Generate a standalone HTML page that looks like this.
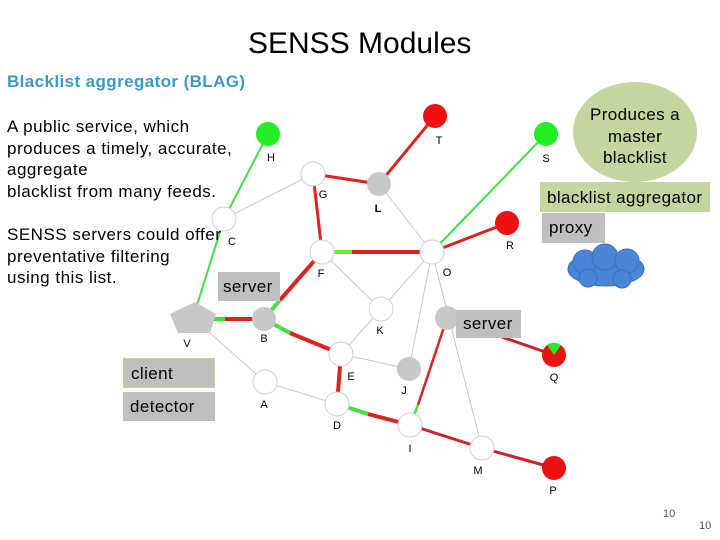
<!DOCTYPE html>
<html><head><meta charset="utf-8"><style>
html,body{margin:0;padding:0;background:#fff;}
body{width:720px;height:540px;position:relative;overflow:hidden;font-family:"Liberation Sans",Arial,sans-serif;}
.t{position:absolute;white-space:nowrap;}
.box{position:absolute;background:#bfbfbf;color:#000;font-size:17px;letter-spacing:0.4px;box-sizing:border-box;padding-left:7px;white-space:nowrap;}
</style></head><body>
<svg width="720" height="540" style="position:absolute;left:0;top:0" xmlns="http://www.w3.org/2000/svg">
<g stroke="#c8c8c8" stroke-width="1" fill="none">
<line x1="224" y1="219" x2="313" y2="174"/>
<line x1="379" y1="184" x2="432" y2="252"/>
<line x1="322" y1="252" x2="381" y2="309"/>
<line x1="381" y1="309" x2="432" y2="252"/>
<line x1="381" y1="309" x2="341" y2="354"/>
<line x1="341" y1="354" x2="409" y2="369"/>
<line x1="193" y1="318" x2="265" y2="382"/>
<line x1="265" y1="382" x2="337" y2="404"/>
<line x1="432" y1="252" x2="409" y2="369"/>
<line x1="432" y1="252" x2="482" y2="448"/>
</g>
<g stroke-width="3" fill="none">
<line x1="268" y1="134" x2="224" y2="219" stroke="#44dd44" stroke-width="2"/>
<line x1="224" y1="219" x2="193" y2="318" stroke="#44dd44" stroke-width="2"/>
<line x1="546" y1="134" x2="432" y2="252" stroke="#44dd44" stroke-width="2"/>
<line x1="313" y1="174" x2="379" y2="184" stroke="#dd2222"/>
<line x1="379" y1="184" x2="435" y2="116" stroke="#dd2222"/>
<line x1="313" y1="174" x2="322" y2="252" stroke="#dd2222"/>
<line x1="432" y1="252" x2="507" y2="223" stroke="#dd2222"/>
<line x1="322" y1="252" x2="352" y2="252" stroke="#66ee33" stroke-width="4"/>
<line x1="352" y1="252" x2="432" y2="252" stroke="#dd2222" stroke-width="4"/>
<line x1="205" y1="319" x2="225" y2="319" stroke="#22ee22" stroke-width="4"/>
<line x1="225" y1="319" x2="264" y2="319" stroke="#dd2222" stroke-width="4"/>
<line x1="264" y1="319" x2="280" y2="300" stroke="#44dd44" stroke-width="4"/>
<line x1="280" y1="300" x2="322" y2="252" stroke="#dd2222" stroke-width="4"/>
<line x1="264" y1="319" x2="290" y2="333" stroke="#44dd44" stroke-width="4"/>
<line x1="290" y1="333" x2="341" y2="354" stroke="#dd2222" stroke-width="4"/>
<line x1="341" y1="354" x2="337" y2="404" stroke="#dd2222" stroke-width="4"/>
<line x1="337" y1="404" x2="368" y2="414" stroke="#44dd44" stroke-width="4"/>
<line x1="368" y1="414" x2="410" y2="425" stroke="#dd2222" stroke-width="4"/>
<line x1="410" y1="425" x2="418" y2="405" stroke="#44dd44" stroke-width="2.5"/>
<line x1="418" y1="405" x2="447" y2="318" stroke="#dd2222" stroke-width="2.5"/>
<line x1="410" y1="425" x2="482" y2="448" stroke="#cc2222"/>
<line x1="482" y1="448" x2="554" y2="468" stroke="#cc2222"/>
<line x1="447" y1="318" x2="554" y2="355" stroke="#cc2222"/>
</g>
<g stroke="#d0d0d0" stroke-width="1" fill="#fff">
<circle cx="313" cy="174" r="12"/><circle cx="224" cy="219" r="12"/>
<circle cx="322" cy="252" r="12"/><circle cx="432" cy="252" r="12"/>
<circle cx="381" cy="309" r="12"/><circle cx="341" cy="354" r="12"/>
<circle cx="265" cy="382" r="12"/><circle cx="337" cy="404" r="12"/>
<circle cx="410" cy="425" r="12"/><circle cx="482" cy="448" r="12"/>
</g>
<g fill="#c8c8c8">
<circle cx="379" cy="184" r="12"/><circle cx="264" cy="319" r="12"/>
<circle cx="447" cy="318" r="12"/><circle cx="409" cy="369" r="12"/>
<polygon points="195,302 216,314 210,333 178,333 170,314"/>
</g>
<circle cx="268" cy="134" r="12" fill="#22ee22"/>
<circle cx="546" cy="134" r="12" fill="#22ee22"/>
<circle cx="435" cy="116" r="12" fill="#ee1111"/>
<circle cx="507" cy="223" r="12" fill="#ee1111"/>
<circle cx="554" cy="468" r="12" fill="#ee1111"/>
<circle cx="554" cy="355" r="12" fill="#ee1111"/>
<path d="M554,355 L547,345 A12,12 0 0 1 561,345 Z" fill="#22ee22"/>
<g font-family="Liberation Sans,Arial,sans-serif" font-size="11" fill="#000" text-anchor="middle">
<text x="271" y="161">H</text><text x="439" y="144">T</text><text x="546" y="162">S</text>
<text x="323" y="198">G</text><text x="378" y="212" font-weight="bold">L</text><text x="232" y="245">C</text>
<text x="321" y="277">F</text><text x="447" y="276">O</text><text x="510" y="249">R</text>
<text x="380" y="334">K</text><text x="187" y="347">V</text><text x="264" y="342">B</text>
<text x="351" y="380">E</text><text x="404" y="394">J</text><text x="264" y="408">A</text>
<text x="337" y="429">D</text><text x="410" y="452">I</text><text x="478" y="474">M</text>
<text x="553" y="494">P</text><text x="554" y="381">Q</text>
</g>
<ellipse cx="635" cy="132" rx="62" ry="50" fill="#c4d59f"/>
<g fill="#4a86d8" stroke="#3a6fb8" stroke-width="1">
<ellipse cx="606" cy="269" rx="38" ry="17"/>
<circle cx="585" cy="262" r="12"/><circle cx="605" cy="257" r="13"/><circle cx="627" cy="261" r="12"/>
<circle cx="588" cy="278" r="9"/><circle cx="622" cy="279" r="9"/>
</g>
</svg>
<div class="t" style="left:248px;top:27px;font-size:30px;">SENSS Modules</div>
<div class="t" style="left:7px;top:72px;font-size:17px;font-weight:bold;color:#3b9ac9;letter-spacing:0.4px;">Blacklist aggregator (BLAG)</div>
<div class="t" style="left:7px;top:116px;font-size:17px;letter-spacing:0.5px;line-height:21.5px;">A public service, which<br>produces a timely, accurate,<br>aggregate<br>blacklist from many feeds.</div>
<div class="t" style="left:7px;top:224px;font-size:17px;letter-spacing:0.5px;line-height:21.5px;">SENSS servers could offer<br>preventative filtering<br>using this list.</div>
<div class="t" style="left:585px;top:104px;width:100px;text-align:center;font-size:17px;letter-spacing:0.4px;line-height:21.5px;white-space:normal;">Produces a master blacklist</div>
<div class="box" style="left:540px;top:182px;width:170px;height:30px;line-height:32px;background:#c4d59f;">blacklist aggregator</div>
<div class="box" style="left:542px;top:213px;width:63px;height:30px;line-height:30px;">proxy</div>
<div class="box" style="left:218px;top:272px;width:62px;height:29px;line-height:30px;padding-left:5px;">server</div>
<div class="box" style="left:456px;top:310px;width:65px;height:28px;line-height:28px;">server</div>
<div class="box" style="left:123px;top:358px;width:92px;height:30px;line-height:30px;border:1px solid #d8c89a;">client</div>
<div class="box" style="left:123px;top:392px;width:92px;height:29px;line-height:29px;">detector</div>
<div class="t" style="left:663px;top:508px;font-size:11px;color:#555;">10</div>
<div class="t" style="left:699px;top:520px;font-size:11px;color:#555;">10</div>
</body></html>
